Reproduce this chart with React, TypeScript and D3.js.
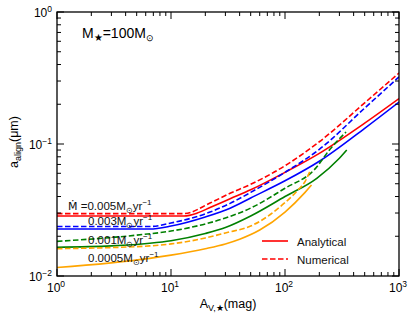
import React from "react";
import * as d3 from "d3";

const W = 415;
const H = 318;
const M = { left: 57, right: 399, top: 12, bottom: 276 };

// A_V,* (mag) sample points and a_align (um) values for each series
const redSolidA = [1, 13, 17, 22, 33, 50, 100, 200, 500, 1000];
const redSolidV = [0.0285, 0.0285, 0.03, 0.033, 0.0385, 0.045, 0.061, 0.085, 0.144, 0.221];
const redDashA = [1, 13, 22, 33, 50, 100, 200, 500, 1000];
const redDashV = [0.0297, 0.0297, 0.0357, 0.0423, 0.0495, 0.0685, 0.104, 0.205, 0.345];

const blueSolidA = [1, 6.5, 10, 20, 33, 50, 100, 200, 500, 1000];
const blueSolidV = [0.0227, 0.0227, 0.0239, 0.028, 0.0326, 0.039, 0.0526, 0.074, 0.1315, 0.208];
const blueDashA = [1, 6.5, 10, 22, 33, 50, 100, 200, 500, 1000];
const blueDashV = [0.0237, 0.0237, 0.0252, 0.0305, 0.0355, 0.043, 0.061, 0.091, 0.187, 0.322];

const greenSolidA = [1, 3, 6.5, 10, 20, 30, 50, 100, 190, 300, 348];
const greenSolidV = [0.0165, 0.0169, 0.0177, 0.0185, 0.021, 0.0233, 0.0285, 0.04, 0.055, 0.078, 0.09];
const greenDashA = [1, 5, 10, 20, 30, 50, 100, 180, 250, 343];
const greenDashV = [0.0183, 0.0204, 0.0219, 0.0248, 0.0275, 0.0327, 0.0462, 0.0636, 0.092, 0.1233];

const orangeSolidA = [1, 6.5, 10, 20, 30, 40, 60, 100, 150, 171];
const orangeSolidV = [0.0116, 0.0136, 0.0144, 0.0161, 0.0175, 0.019, 0.0223, 0.0305, 0.043, 0.0489];
const orangeDashA = [1, 6.5, 10, 20, 30, 50, 100, 130, 150, 166];
const orangeDashV = [0.0161, 0.0169, 0.0175, 0.0194, 0.0212, 0.0239, 0.036, 0.0448, 0.052, 0.0624];

const series = [
  { a: redSolidA, v: redSolidV, color: "#ff0000", dash: false },
  { a: redDashA, v: redDashV, color: "#ff0000", dash: true },
  { a: blueSolidA, v: blueSolidV, color: "#0000ff", dash: false },
  { a: blueDashA, v: blueDashV, color: "#0000ff", dash: true },
  { a: greenSolidA, v: greenSolidV, color: "#008000", dash: false },
  { a: greenDashA, v: greenDashV, color: "#008000", dash: true },
  { a: orangeSolidA, v: orangeSolidV, color: "#ffa500", dash: false },
  { a: orangeDashA, v: orangeDashV, color: "#ffa500", dash: true },
];

const rateLabels = ["0.005", "0.003", "0.001", "0.0005"];
const xTickExps = [0, 1, 2, 3];
const yTickExps = [-2, -1, 0];
const legendLabels = ["Analytical", "Numerical"];

const FONT = "'Liberation Sans', Arial, Helvetica, sans-serif";

export default function App() {
  const x = d3.scaleLog().domain([1, 1000]).range([M.left, M.right]);
  const y = d3.scaleLog().domain([0.01, 1]).range([M.bottom, M.top]);

  const line = d3
    .line<[number, number]>()
    .x((d) => x(d[0]))
    .y((d) => y(d[1]))
    .curve(d3.curveMonotoneX);

  const minorX: number[] = [];
  for (let e = 0; e < 3; e++) for (let k = 2; k <= 9; k++) minorX.push(k * Math.pow(10, e));
  const minorY: number[] = [];
  for (let e = -2; e < 0; e++) for (let k = 2; k <= 9; k++) minorY.push(k * Math.pow(10, e));

  const major = 7;
  const minor = 4;

  const labelY = [210, 224.5, 244, 262];
  const labelX = [68, 88, 88, 88];

  return (
    <svg
      width={W}
      height={H}
      style={{ position: "absolute", left: 0, top: 0, background: "#fff" }}
      fontFamily={FONT}
    >
      <defs>
        <clipPath id="plot">
          <rect x={M.left} y={M.top} width={M.right - M.left} height={M.bottom - M.top} />
        </clipPath>
      </defs>
      <rect x={0} y={0} width={W} height={H} fill="#fff" />

      <g clipPath="url(#plot)">
        {series.map((s, i) => (
          <path
            key={i}
            d={line(s.a.map((a, j) => [a, s.v[j]] as [number, number])) || ""}
            fill="none"
            stroke={s.color}
            strokeWidth={1.6}
            strokeDasharray={s.dash ? "5.5,2.5" : undefined}
          />
        ))}
      </g>

      {/* ticks */}
      <g stroke="#000" strokeWidth={1}>
        {xTickExps.map((e) => {
          const px = x(Math.pow(10, e));
          return (
            <g key={"xm" + e}>
              <line x1={px} x2={px} y1={M.bottom} y2={M.bottom - major} />
              <line x1={px} x2={px} y1={M.top} y2={M.top + major} />
            </g>
          );
        })}
        {minorX.map((v) => {
          const px = x(v);
          return (
            <g key={"xn" + v}>
              <line x1={px} x2={px} y1={M.bottom} y2={M.bottom - minor} />
              <line x1={px} x2={px} y1={M.top} y2={M.top + minor} />
            </g>
          );
        })}
        {yTickExps.map((e) => {
          const py = y(Math.pow(10, e));
          return (
            <g key={"ym" + e}>
              <line x1={M.left} x2={M.left + major} y1={py} y2={py} />
              <line x1={M.right} x2={M.right - major} y1={py} y2={py} />
            </g>
          );
        })}
        {minorY.map((v) => {
          const py = y(v);
          return (
            <g key={"yn" + v}>
              <line x1={M.left} x2={M.left + minor} y1={py} y2={py} />
              <line x1={M.right} x2={M.right - minor} y1={py} y2={py} />
            </g>
          );
        })}
      </g>

      <rect
        x={M.left}
        y={M.top}
        width={M.right - M.left}
        height={M.bottom - M.top}
        fill="none"
        stroke="#000"
        strokeWidth={1.3}
      />

      {/* x tick labels */}
      {xTickExps.map((e) => (
        <text key={"xl" + e} x={x(Math.pow(10, e)) - 1} y={292} fontSize={12} textAnchor="middle" fill="#000">
          10
          <tspan dy={-5} fontSize={8.5}>
            {e}
          </tspan>
        </text>
      ))}
      {/* y tick labels */}
      {yTickExps.map((e) => (
        <text key={"yl" + e} x={52} y={y(Math.pow(10, e)) + 5} fontSize={12} textAnchor="end" fill="#000">
          10
          <tspan dy={-5} fontSize={8.5}>
            {e === 0 ? "0" : "\u2212" + Math.abs(e)}
          </tspan>
        </text>
      ))}

      {/* axis labels */}
      <text x={228} y={308} fontSize={12.5} textAnchor="middle" fill="#000">
        A
        <tspan dy={3} fontSize={9}>
          V,★
        </tspan>
        <tspan dy={-3}>(mag)</tspan>
      </text>
      <text transform="translate(18,142) rotate(-90)" fontSize={12.5} textAnchor="middle" fill="#000">
        a
        <tspan dy={3} fontSize={9}>
          align
        </tspan>
        <tspan dy={-3}>(μm)</tspan>
      </text>

      {/* title */}
      <text x={82} y={38} fontSize={14} fill="#000">
        M
        <tspan dy={3} fontSize={10}>
          ★
        </tspan>
        <tspan dy={-3}>=100M</tspan>
        <tspan dy={3} fontSize={9}>
          ⊙
        </tspan>
      </text>

      {/* rate labels */}
      {rateLabels.map((r, i) => (
        <text key={"r" + i} x={labelX[i]} y={labelY[i]} fontSize={11.5} fill="#111">
          {i === 0 ? (
            <tspan fontFamily="'DejaVu Sans', sans-serif" fontSize={11}>
              Ṁ
            </tspan>
          ) : null}
          {i === 0 ? " =" : ""}
          {r}M
          <tspan dy={3} fontSize={8}>
            ⊙
          </tspan>
          <tspan dy={-3}>yr</tspan>
          <tspan dy={-5} fontSize={8}>
            −1
          </tspan>
        </text>
      ))}

      {/* legend */}
      {legendLabels.map((l, i) => (
        <g key={"lg" + i}>
          <line
            x1={262}
            x2={288}
            y1={241 + i * 18}
            y2={241 + i * 18}
            stroke="#ff0000"
            strokeWidth={1.6}
            strokeDasharray={i === 1 ? "5.5,2.5" : undefined}
          />
          <text x={297} y={245.5 + i * 18} fontSize={11.5} fill="#111">
            {l}
          </text>
        </g>
      ))}
    </svg>
  );
}
